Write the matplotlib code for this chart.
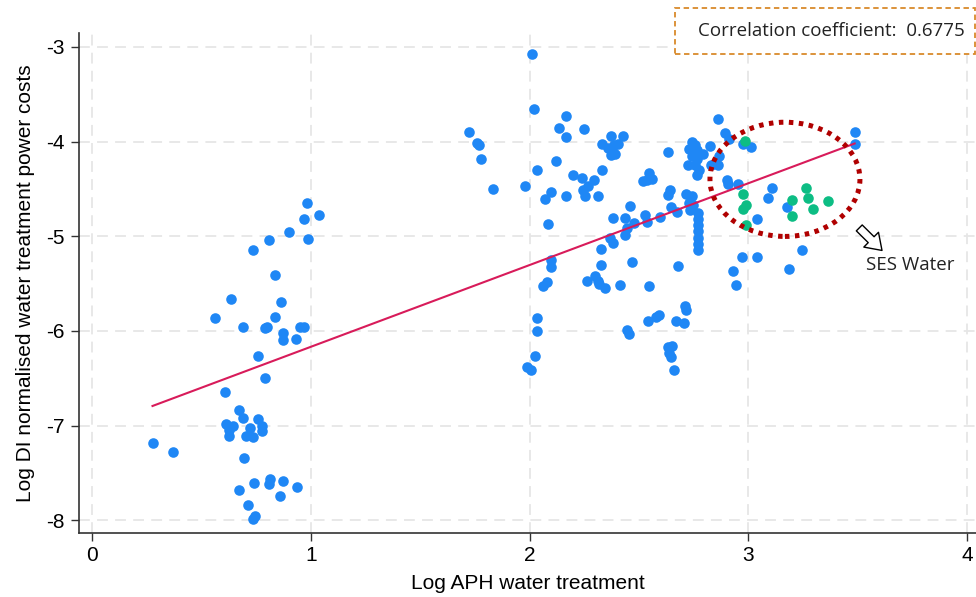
import matplotlib
matplotlib.use("Agg")
import matplotlib.pyplot as plt
from matplotlib.patches import Ellipse, Rectangle
import numpy as np

# Values (log APH vs log DI normalised power costs)
left_x = [0.982, 1.035, 0.968, 0.899, 0.985, 0.808, 0.736, 0.835, 0.635, 0.861,
          0.563, 0.835, 0.687, 0.788, 0.800, 0.948, 0.970, 0.870, 0.870, 0.931,
          0.759, 0.791, 0.608, 0.670, 0.687, 0.759, 0.612, 0.645, 0.624, 0.624,
          0.722, 0.777, 0.777, 0.701, 0.734, 0.275, 0.368, 0.692, 0.814, 0.809,
          0.741, 0.870, 0.670, 0.936, 0.858, 0.711, 0.742, 0.736]
left_y = [-4.646, -4.776, -4.821, -4.955, -5.029, -5.043, -5.143, -5.407, -5.661, -5.696,
          -5.862, -5.854, -5.957, -5.974, -5.960, -5.957, -5.957, -6.026, -6.100, -6.084,
          -6.266, -6.502, -6.647, -6.834, -6.922, -6.929, -6.988, -6.999, -7.049, -7.105,
          -7.028, -6.999, -7.052, -7.105, -7.115, -7.179, -7.281, -7.345, -7.559, -7.612,
          -7.609, -7.588, -7.680, -7.648, -7.746, -7.841, -7.950, -7.986]

mid_x = [1.723, 1.761, 1.767, 1.778, 1.834, 1.978, 2.010, 2.019, 2.032, 2.070,
         2.098, 2.084, 2.121, 2.133, 2.165, 2.166, 2.168, 2.200, 2.238, 2.249,
         2.246, 2.252, 2.268, 2.296, 2.312, 2.333, 2.371, 2.426, 2.333, 2.360,
         2.386, 2.406, 2.371, 2.391, 2.459, 2.520, 2.548, 2.559, 2.536, 2.634,
         2.642, 2.634, 2.645, 2.673, 2.380, 2.436, 2.479, 2.447, 2.436, 2.528,
         2.536, 2.597, 2.368, 2.380, 2.327, 2.467, 2.098, 2.098, 2.327, 2.677,
         2.063, 2.081, 2.264, 2.299, 2.314, 2.317, 2.344, 2.414, 2.546, 2.710,
         2.714, 2.032, 2.034, 2.542, 2.577, 2.592, 2.668, 2.705, 2.444, 2.455,
         2.026, 1.987, 2.008, 2.632, 2.653, 2.636, 2.648, 2.661]
mid_y = [-3.894, -4.011, -4.032, -4.180, -4.497, -4.473, -3.076, -3.658, -4.296, -4.611,
         -4.533, -4.872, -4.201, -3.859, -3.732, -3.947, -4.579, -4.353, -4.385, -3.870,
         -4.508, -4.576, -4.473, -4.410, -4.579, -4.304, -3.944, -3.944, -4.029, -4.068,
         -4.039, -4.021, -4.145, -4.134, -4.685, -4.420, -4.328, -4.392, -4.402, -4.106,
         -4.515, -4.568, -4.695, -4.745, -4.808, -4.808, -4.861, -4.914, -4.984, -4.772,
         -4.851, -4.798, -5.016, -5.069, -5.132, -5.267, -5.256, -5.327, -5.309, -5.317,
         -5.521, -5.486, -5.478, -5.415, -5.468, -5.503, -5.545, -5.510, -5.521, -5.740,
         -5.778, -5.867, -6.004, -5.891, -5.849, -5.831, -5.894, -5.912, -5.986, -6.032,
         -6.261, -6.385, -6.410, -6.174, -6.159, -6.237, -6.279, -6.410]

right_x = [2.742, 2.757, 2.731, 2.764, 2.792, 2.742, 2.764, 2.726, 2.757, 2.776,
           2.764, 2.825, 2.830, 2.860, 2.868, 2.715, 2.744, 2.731, 2.749, 2.734,
           2.769, 2.769, 2.769, 2.769, 2.769, 2.769, 2.769, 2.863, 2.894, 2.913,
           2.975, 3.011, 2.902, 2.909, 2.955, 3.107, 3.089, 3.176, 3.039, 3.245,
           2.970, 3.039, 2.932, 3.188, 2.946, 3.487, 3.487]
right_y = [-4.004, -4.039, -4.074, -4.092, -4.127, -4.156, -4.180, -4.243, -4.251, -4.296,
           -4.357, -4.050, -4.251, -4.251, -4.156, -4.550, -4.579, -4.650, -4.674, -4.727,
           -4.759, -4.822, -4.886, -4.949, -5.023, -5.087, -5.150, -3.757, -3.915, -3.968,
           -4.021, -4.057, -4.410, -4.444, -4.452, -4.491, -4.593, -4.692, -4.815, -5.143,
           -5.221, -5.221, -5.369, -5.344, -5.513, -3.898, -4.021]

# SES Water observations (green)
ses_x = [2.985, 2.975, 2.990, 2.975, 2.990, 3.199, 3.199, 3.263, 3.272, 3.298, 3.364]
ses_y = [-3.994, -4.558, -4.674, -4.709, -4.886, -4.621, -4.790, -4.491, -4.593, -4.716, -4.629]

# fitted line
fit_slope = 0.863
fit_intercept = -7.030
corr_text = "Correlation coefficient:  0.6775"

x_ticks = [0, 1, 2, 3, 4]
y_ticks = [-3, -4, -5, -6, -7, -8]

blue = "#1f87f5"
green = "#0dbd84"

plt.rcParams["font.family"] = ["Liberation Sans", "DejaVu Sans"]
plt.rcParams["axes.unicode_minus"] = False

fig = plt.figure(figsize=(9.76, 5.97), dpi=100)
ax = fig.add_axes([79 / 976, 1 - 533 / 597, 897 / 976, (533 - 33.5) / 597])

all_x = np.array(left_x + mid_x + right_x + ses_x)

ax.scatter(left_x + mid_x + right_x, left_y + mid_y + right_y, s=58, color=blue,
           linewidths=0, zorder=3)
ax.scatter(ses_x, ses_y, s=58, color=green, linewidths=0, zorder=4)

# regression line across data range
xs = np.array([all_x.min(), all_x.max()])
ax.plot(xs, fit_slope * xs + fit_intercept, color="#d81b5a", lw=1.5, zorder=5)

# dotted ellipse around SES Water
ell = Ellipse((3.168, -4.399), 0.686, 1.206, fill=False, edgecolor="#b00000",
              lw=3.6, linestyle=(0, (0.9, 1.1)), zorder=6)
ax.add_patch(ell)

# hollow arrow + label
ax.annotate("", xy=(3.612, -5.150), xytext=(3.508, -4.912),
            arrowprops=dict(arrowstyle="simple,head_length=0.55,head_width=0.75,tail_width=0.3",
                            fc="white", ec="black", lw=1.0, mutation_scale=20,
                            shrinkA=0, shrinkB=0), zorder=7)
ax.text(3.539, -5.309, "SES Water", fontsize=13.5, family=["Open Sans", "DejaVu Sans"],
        ha="left", va="center", color="#222222", zorder=7)

ax.set_xlim(-0.0613, 4.042)
ax.set_ylim(-8.134, -2.859)
ax.set_xticks(x_ticks)
ax.set_yticks(y_ticks)
ax.tick_params(axis="both", labelsize=15, length=6, width=1.0, color="#333333")
ax.tick_params(axis="y", pad=4)

ax.grid(True, color="#e6e6e6", lw=1.3, linestyle=(0, (6, 4)), zorder=0)
ax.set_axisbelow(True)

for side in ["top", "right"]:
    ax.spines[side].set_visible(False)
for side in ["left", "bottom"]:
    ax.spines[side].set_color("#333333")
    ax.spines[side].set_linewidth(1.2)

ax.set_xlabel("Log APH water treatment", fontsize=15, labelpad=6)
ax.set_ylabel("Log DI normalised water treatment power costs", fontsize=15, labelpad=8)

# correlation box at top right
box = Rectangle((675 / 976, 1 - 54 / 597), 300 / 976, 46 / 597, transform=fig.transFigure,
                facecolor="white", edgecolor="#d98a2b", lw=1.3, linestyle=(0, (3, 2)),
                zorder=10)
fig.patches.append(box)
fig.text(831 / 976, 1 - 31 / 597, corr_text, fontsize=13.5,
         family=["Open Sans", "DejaVu Sans"], ha="center", va="center",
         color="#222222", zorder=11)

fig.savefig("out.png", dpi=100)
